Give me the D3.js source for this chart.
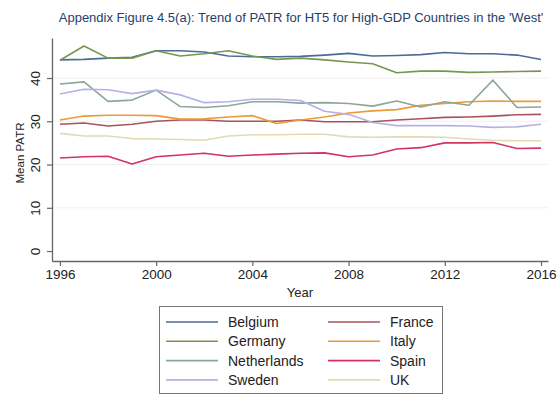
<!DOCTYPE html>
<html><head><meta charset="utf-8">
<script src="https://cdn.jsdelivr.net/npm/d3@7"></script>
<style>body{margin:0;background:#fff}svg{display:block}text{font-family:"Liberation Sans",Arial,Helvetica,sans-serif}</style>
</head><body>
<script>
const years = d3.range(1996, 2017);
const belgium = [44.2,44.3,44.6,44.8,46.3,46.3,46.0,45.1,44.9,44.9,45.0,45.3,45.7,45.1,45.2,45.4,45.9,45.6,45.6,45.3,44.3];
const germany = [44.1,47.4,44.6,44.6,46.3,45.1,45.6,46.3,45.1,44.3,44.6,44.2,43.7,43.3,41.2,41.6,41.6,41.3,41.4,41.5,41.6];
const netherlands = [38.6,39.1,34.6,34.9,37.2,33.4,33.2,33.6,34.5,34.5,34.2,34.3,34.1,33.5,34.7,33.3,34.5,33.7,39.5,33.2,33.3];
const sweden = [36.3,37.4,37.3,36.4,37.2,36.1,34.3,34.5,35.1,35.1,34.8,32.3,31.6,29.7,29.0,29.0,29.0,28.9,28.6,28.7,29.3];
const france = [29.3,29.6,28.9,29.3,30.0,30.3,30.3,30.0,30.0,30.0,30.3,29.9,29.9,29.9,30.3,30.6,30.9,31.0,31.2,31.5,31.6];
const italy = [30.3,31.2,31.4,31.4,31.3,30.5,30.6,31.0,31.3,29.5,30.3,31.0,31.9,32.4,32.7,33.7,34.1,34.5,34.7,34.6,34.6];
const spain = [21.5,21.8,21.9,20.1,21.8,22.2,22.6,21.9,22.2,22.4,22.6,22.7,21.8,22.2,23.6,23.9,25.0,25.0,25.1,23.7,23.8];
const uk = [27.2,26.6,26.6,26.0,25.9,25.8,25.6,26.6,26.9,26.9,27.0,27.0,26.4,26.3,26.4,26.4,26.3,25.9,25.6,25.5,25.5];
const xTicks = [1996,2000,2004,2008,2012,2016];
const yTicks = [0,10,20,30,40];
const seriesNames = ["Belgium","France","Germany","Italy","Netherlands","Spain","Sweden","UK"];
const seriesValues = [belgium,france,germany,italy,netherlands,spain,sweden,uk];
const colors = ["#4a6c96","#a8545e","#789650","#eb9a35","#8ea59b","#d2345f","#b6b1e4","#e2dab2"];
const titleText = "Appendix Figure 4.5(a): Trend of PATR for HT5 for High-GDP Countries in the 'West'";

(function () {
const W = 558, H = 398;
const svg = d3.select("body").append("svg").attr("width", W).attr("height", H);
svg.append("rect").attr("width", W).attr("height", H).attr("fill", "#fff");

const pL = 52, pR = 548, pT = 38, pB = 261;
const x = d3.scaleLinear().domain([1995.67, 2016.29]).range([pL, pR]);
const y = d3.scaleLinear().domain([-2.3, 49.25]).range([pB, pT]);

// gridlines
svg.append("g").selectAll("line").data(yTicks.filter(d => d > 0)).join("line")
  .attr("x1", pL).attr("x2", pR)
  .attr("y1", d => y(d)).attr("y2", d => y(d))
  .attr("stroke", "#f0f0f0").attr("stroke-width", 1);

// axes
const xAxis = svg.append("g").attr("transform", `translate(0,${pB})`)
  .call(d3.axisBottom(x).tickValues(xTicks).tickFormat(d3.format("d")).tickSize(5).tickPadding(3).tickSizeOuter(0));
const yAxis = svg.append("g").attr("transform", `translate(${pL},0)`)
  .call(d3.axisLeft(y).tickValues(yTicks).tickSize(5).tickSizeOuter(0));
[xAxis, yAxis].forEach(g => {
  g.select(".domain").attr("stroke", "#666").attr("stroke-width", 1.3);
  g.selectAll(".tick line").attr("stroke", "#666").attr("stroke-width", 1.2);
  g.selectAll("text").attr("fill", "#222").attr("font-size", 13.5);
});
yAxis.selectAll(".tick text")
  .attr("x", null).attr("dy", null)
  .attr("text-anchor", "middle")
  .attr("transform", "translate(-17,0) rotate(-90)")
  .attr("dy", "0.35em");

// lines
const line = d3.line().x((d, i) => x(years[i])).y(d => y(d));
seriesValues.forEach((vals, k) => {
  svg.append("path").datum(vals).attr("d", line)
    .attr("fill", "none").attr("stroke", colors[k]).attr("stroke-width", 1.6)
    .attr("stroke-linejoin", "round");
});

// title
svg.append("text").attr("x", 301).attr("y", 22).attr("text-anchor", "middle")
  .attr("font-size", 13).attr("fill", "#253f6b").text(titleText);

// axis titles
svg.append("text").attr("x", 300).attr("y", 297).attr("text-anchor", "middle")
  .attr("font-size", 13).attr("fill", "#222").text("Year");
svg.append("text").attr("transform", "translate(24,153) rotate(-90)")
  .attr("text-anchor", "middle").attr("font-size", 11.5).attr("fill", "#222").text("Mean PATR");

// legend
const lg = svg.append("g");
lg.append("rect").attr("x", 159.5).attr("y", 306.5).attr("width", 283).attr("height", 87)
  .attr("fill", "#fff").attr("stroke", "#777").attr("stroke-width", 1);
seriesNames.forEach((name, k) => {
  const col = k % 2, row = Math.floor(k / 2);
  const ly = 322 + row * 19.3;
  const lx = col === 0 ? 166 : 328;
  lg.append("line").attr("x1", lx).attr("x2", lx + 52).attr("y1", ly).attr("y2", ly)
    .attr("stroke", colors[k]).attr("stroke-width", 1.6);
  lg.append("text").attr("x", lx + 62).attr("y", ly).attr("dy", "0.36em")
    .attr("font-size", 14).attr("fill", "#222").text(name);
});
})();
</script>
</body></html>
